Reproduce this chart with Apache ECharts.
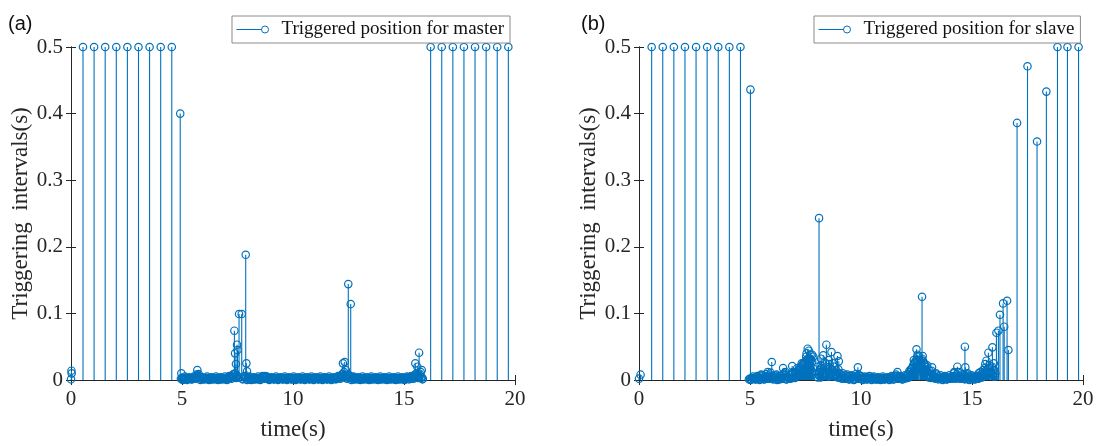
<!DOCTYPE html>
<html>
<head>
<meta charset="utf-8">
<script src="https://cdn.jsdelivr.net/npm/echarts@6/dist/echarts.min.js"></script>
<style>
html,body{margin:0;padding:0;background:#fff;}
#chart{width:1105px;height:446px;}
</style>
</head>
<body>
<div id="chart"></div>
<script>
// ---------------- data ----------------
const xTicks = [0, 5, 10, 15, 20];
const yTicks = [0, 0.1, 0.2, 0.3, 0.4, 0.5];
const panelLabels = ['(a)', '(b)'];
const seriesNames = ['Triggered position for master', 'Triggered position for slave'];
const xName = 'time(s)';
const yName = 'Triggering  intervals(s)';

// master: points clipped at the 0.5 limit
const masterTall = [[0.54,0.5],[1.04,0.5],[1.54,0.5],[2.04,0.5],[2.54,0.5],[3.04,0.5],[3.54,0.5],[4.04,0.5],[4.54,0.5],
  [16.2,0.5],[16.7,0.5],[17.2,0.5],[17.7,0.5],[18.2,0.5],[18.7,0.5],[19.2,0.5],[19.7,0.5]];
// master: isolated spikes
const masterSpikes = [[0,0.001],[0.02,0.014],[0.03,0.010],[4.92,0.400],[4.97,0.010],[5.69,0.015],[5.75,0.009],
  [7.36,0.074],[7.39,0.040],[7.43,0.024],[7.48,0.053],[7.50,0.045],[7.57,0.099],[7.69,0.099],[7.87,0.188],
  [7.90,0.025],[7.93,0.013],[12.25,0.025],[12.33,0.027],[12.38,0.015],[12.49,0.144],[12.60,0.114],
  [15.51,0.025],[15.60,0.020],[15.68,0.041],[15.75,0.012],[15.80,0.015]];
// master: dense band of short intervals
const masterBand = [
  [5.0,0.003],[5.1,0.002],[5.2,0.002],[5.3,0.003],[5.4,0.002],[5.5,0.003],[5.6,0.004],[5.7,0.006],[5.8,0.004],[5.9,0.003],
  [6.0,0.002],[6.1,0.003],[6.2,0.002],[6.3,0.002],[6.4,0.003],[6.5,0.002],[6.6,0.003],[6.7,0.002],[6.8,0.003],[6.9,0.002],
  [7.0,0.003],[7.1,0.004],[7.2,0.006],[7.3,0.008],[7.4,0.010],[7.5,0.006],
  [7.8,0.005],[7.9,0.004],[8.0,0.004],[8.1,0.003],[8.2,0.002],[8.3,0.003],[8.4,0.002],[8.5,0.003],[8.6,0.004],[8.7,0.005],
  [8.8,0.004],[8.9,0.003],[9.0,0.002],[9.1,0.003],[9.2,0.002],[9.3,0.003],[9.4,0.002],[9.5,0.002],[9.6,0.003],[9.7,0.002],
  [9.8,0.003],[9.9,0.002],[10.0,0.003],[10.1,0.002],[10.2,0.002],[10.3,0.003],[10.4,0.002],[10.5,0.003],[10.6,0.002],
  [10.7,0.003],[10.8,0.002],[10.9,0.002],[11.0,0.003],[11.1,0.002],[11.2,0.003],[11.3,0.002],[11.4,0.002],[11.5,0.003],
  [11.6,0.002],[11.7,0.003],[11.8,0.002],[11.9,0.003],[12.0,0.004],[12.1,0.005],[12.2,0.008],[12.3,0.012],
  [12.5,0.008],[12.6,0.005],[12.7,0.004],[12.8,0.003],[12.9,0.002],[13.0,0.003],[13.1,0.002],[13.2,0.003],[13.3,0.002],
  [13.4,0.002],[13.5,0.003],[13.6,0.002],[13.7,0.003],[13.8,0.002],[13.9,0.003],[14.0,0.002],[14.1,0.002],[14.2,0.003],
  [14.3,0.002],[14.4,0.003],[14.5,0.002],[14.6,0.003],[14.7,0.002],[14.8,0.003],[14.9,0.003],[15.0,0.002],[15.1,0.003],
  [15.2,0.004],[15.3,0.004],[15.4,0.005],[15.5,0.008],[15.6,0.010],[15.7,0.006],[15.8,0.004]];
const masterBand2 = [
  [4.95,0.002],[5.05,0.001],[5.15,0.003],[5.25,0.001],[5.35,0.002],[5.45,0.001],[5.55,0.003],[5.65,0.008],[5.75,0.003],
  [5.85,0.002],[5.95,0.001],[6.05,0.002],[6.15,0.001],[6.25,0.003],[6.35,0.001],[6.45,0.002],[6.55,0.001],[6.65,0.002],
  [6.75,0.001],[6.85,0.002],[6.95,0.001],[7.05,0.002],[7.15,0.003],[7.25,0.004],[7.35,0.005],[7.45,0.004],
  [7.75,0.002],[7.85,0.003],[7.95,0.002],[8.05,0.001],[8.15,0.002],[8.25,0.001],[8.35,0.002],[8.45,0.001],[8.55,0.002],
  [8.65,0.003],[8.75,0.006],[8.85,0.002],[8.95,0.001],[9.05,0.002],[9.15,0.001],[9.25,0.002],[9.35,0.001],[9.45,0.003],
  [9.55,0.001],[9.65,0.002],[9.75,0.001],[9.85,0.002],[9.95,0.001],[10.05,0.002],[10.15,0.001],[10.25,0.002],[10.35,0.001],
  [10.45,0.002],[10.55,0.001],[10.65,0.002],[10.75,0.001],[10.85,0.003],[10.95,0.001],[11.05,0.002],[11.15,0.001],
  [11.25,0.002],[11.35,0.001],[11.45,0.002],[11.55,0.001],[11.65,0.002],[11.75,0.001],[11.85,0.002],[11.95,0.002],
  [12.05,0.003],[12.15,0.004],[12.25,0.006],[12.35,0.007],
  [12.45,0.004],[12.55,0.003],[12.65,0.002],[12.75,0.001],[12.85,0.002],[12.95,0.001],[13.05,0.002],[13.15,0.001],
  [13.25,0.002],[13.35,0.001],[13.45,0.002],[13.55,0.001],[13.65,0.002],[13.75,0.001],[13.85,0.002],[13.95,0.001],
  [14.05,0.003],[14.15,0.001],[14.25,0.002],[14.35,0.001],[14.45,0.002],[14.55,0.001],[14.65,0.002],[14.75,0.001],
  [14.85,0.002],[14.95,0.001],[15.05,0.002],[15.15,0.002],[15.25,0.003],[15.35,0.002],[15.45,0.004],[15.55,0.006],
  [15.65,0.005],[15.75,0.003],[15.85,0.002]];
const masterBand3 = [
  [5.03,0.000],[5.13,0.005],[5.23,0.000],[5.33,0.004],[5.43,0.001],[5.53,0.005],[5.63,0.002],[5.73,0.007],[5.83,0.000],
  [5.93,0.004],[6.03,0.001],[6.13,0.005],[6.23,0.000],[6.33,0.004],[6.43,0.001],[6.53,0.005],[6.63,0.000],[6.73,0.004],
  [6.83,0.001],[6.93,0.005],[7.03,0.000],[7.13,0.006],[7.23,0.002],[7.33,0.009],[7.43,0.003],[7.53,0.004],
  [7.73,0.001],[7.83,0.006],[7.93,0.000],[8.03,0.005],[8.13,0.000],[8.23,0.004],[8.33,0.001],[8.43,0.005],[8.53,0.000],
  [8.63,0.006],[8.73,0.002],[8.83,0.005],[8.93,0.000],[9.03,0.004],[9.13,0.001],[9.23,0.005],[9.33,0.000],[9.43,0.004],
  [9.53,0.001],[9.63,0.005],[9.73,0.000],[9.83,0.004],[9.93,0.001],[10.03,0.005],[10.13,0.000],[10.23,0.004],[10.33,0.001],
  [10.43,0.005],[10.53,0.000],[10.63,0.004],[10.73,0.001],[10.83,0.005],[10.93,0.000],[11.03,0.004],[11.13,0.001],
  [11.23,0.005],[11.33,0.000],[11.43,0.004],[11.53,0.001],[11.63,0.005],[11.73,0.000],[11.83,0.004],[11.93,0.001],
  [12.03,0.006],[12.13,0.002],[12.23,0.009],[12.33,0.004],
  [12.43,0.002],[12.53,0.006],[12.63,0.000],[12.73,0.005],[12.83,0.001],[12.93,0.004],[13.03,0.000],[13.13,0.005],
  [13.23,0.001],[13.33,0.004],[13.43,0.000],[13.53,0.005],[13.63,0.001],[13.73,0.004],[13.83,0.000],[13.93,0.005],
  [14.03,0.001],[14.13,0.004],[14.23,0.000],[14.33,0.005],[14.43,0.001],[14.53,0.004],[14.63,0.000],[14.73,0.005],
  [14.83,0.001],[14.93,0.004],[15.03,0.000],[15.13,0.005],[15.23,0.001],[15.33,0.006],[15.43,0.002],[15.53,0.009],
  [15.63,0.003],[15.73,0.008],[15.83,0.001]];

// slave
const slaveTall = [[0.57,0.5],[1.07,0.5],[1.57,0.5],[2.07,0.5],[2.57,0.5],[3.07,0.5],[3.57,0.5],[4.07,0.5],[4.57,0.5],
  [18.85,0.5],[19.3,0.5],[19.8,0.5]];
const slaveSpikes = [[0,0.002],[0.07,0.008],[5.02,0.436],[8.11,0.243],[12.75,0.125],[14.68,0.050],
  [17.03,0.386],[17.5,0.471],[17.93,0.358],[18.35,0.433],
  [15.60,0.024],[15.65,0.029],[15.74,0.041],[15.92,0.049],[16.10,0.071],[16.19,0.074],[16.26,0.098],
  [16.40,0.115],[16.45,0.080],[16.58,0.119],[16.64,0.045]];
const slaveMid = [[5.5,0.008],[5.8,0.012],[5.98,0.027],[6.2,0.008],[6.49,0.018],[6.6,0.012],[6.9,0.021],[7.2,0.015],
  [7.4,0.025],[7.55,0.040],[7.6,0.047],[7.65,0.044],[7.8,0.038],[7.85,0.035],[8.05,0.020],[8.2,0.032],[8.3,0.037],
  [8.44,0.053],[8.55,0.030],[8.67,0.042],[8.75,0.025],[8.94,0.036],[9.0,0.028],[9.86,0.019],[11.64,0.012],
  [12.4,0.025],[12.5,0.046],[12.55,0.038],[12.6,0.035],[12.65,0.028],[12.85,0.025],[12.95,0.020],[13.1,0.014],
  [13.2,0.019],[14.2,0.012],[14.34,0.020],[14.7,0.019],[14.8,0.010],[15.3,0.010],[15.5,0.015]];
const slaveBand = [
  [5.0,0.002],[5.1,0.003],[5.2,0.002],[5.3,0.004],[5.4,0.003],[5.5,0.005],[5.6,0.003],[5.7,0.006],[5.8,0.005],[5.9,0.008],
  [6.0,0.006],[6.1,0.004],[6.2,0.005],[6.3,0.003],[6.4,0.006],[6.5,0.008],[6.6,0.005],[6.7,0.004],[6.8,0.007],[6.9,0.009],
  [7.0,0.008],[7.05,0.010],[7.1,0.012],[7.15,0.014],[7.2,0.015],[7.25,0.018],[7.3,0.020],[7.35,0.022],[7.4,0.023],
  [7.45,0.026],[7.5,0.028],[7.55,0.030],[7.6,0.031],[7.65,0.033],[7.7,0.032],[7.75,0.030],[7.8,0.028],
  [8.1,0.012],[8.15,0.015],[8.2,0.018],[8.3,0.014],[8.4,0.020],[8.5,0.016],[8.6,0.018],[8.7,0.015],[8.8,0.012],[8.9,0.014],
  [9.0,0.010],[9.1,0.008],[9.2,0.006],[9.3,0.007],[9.4,0.005],[9.5,0.006],[9.6,0.004],[9.7,0.005],[9.8,0.006],[9.9,0.008],
  [10.0,0.005],[10.1,0.004],[10.2,0.003],[10.3,0.004],[10.4,0.003],[10.5,0.004],[10.6,0.003],[10.7,0.002],[10.8,0.003],
  [10.9,0.002],[11.0,0.003],[11.1,0.002],[11.2,0.003],[11.3,0.004],[11.4,0.003],[11.5,0.005],[11.6,0.006],[11.7,0.004],
  [11.8,0.003],[11.9,0.004],[12.0,0.005],[12.1,0.008],[12.2,0.012],[12.25,0.016],[12.3,0.018],[12.35,0.022],[12.4,0.025],
  [12.45,0.028],[12.5,0.030],[12.55,0.027],
  [12.7,0.030],[12.75,0.032],[12.8,0.028],[12.85,0.024],[12.9,0.020],[12.95,0.015],[13.0,0.012],[13.1,0.008],[13.2,0.009],
  [13.3,0.006],[13.4,0.008],[13.5,0.005],[13.6,0.004],[13.7,0.003],[13.8,0.004],[13.9,0.003],[14.0,0.004],[14.1,0.005],
  [14.2,0.006],[14.3,0.008],[14.4,0.006],[14.5,0.005],[14.6,0.007],[14.7,0.006],[14.8,0.005],[14.9,0.004],[15.0,0.005],
  [15.1,0.004],[15.2,0.005],[15.3,0.006],[15.4,0.008],[15.5,0.010],[15.6,0.013],[15.7,0.016],[15.8,0.018],[15.9,0.020],
  [16.0,0.015],[16.05,0.010]];
const slaveBand2 = [
  [4.95,0.001],[5.05,0.001],[5.15,0.002],[5.25,0.001],[5.35,0.002],[5.45,0.001],[5.55,0.002],[5.65,0.001],[5.75,0.003],
  [5.85,0.002],[5.95,0.003],[6.05,0.002],[6.15,0.001],[6.25,0.002],[6.35,0.001],[6.45,0.003],[6.55,0.002],[6.65,0.001],
  [6.75,0.002],[6.85,0.003],[6.95,0.004],[7.02,0.003],[7.08,0.005],[7.12,0.006],[7.18,0.008],[7.22,0.006],[7.28,0.010],
  [7.32,0.008],[7.38,0.012],[7.42,0.010],[7.48,0.015],[7.52,0.012],[7.58,0.018],[7.62,0.014],[7.68,0.020],[7.72,0.016],
  [7.78,0.012],[7.82,0.008],
  [8.05,0.004],[8.12,0.006],[8.18,0.004],[8.25,0.008],[8.35,0.006],[8.45,0.009],[8.55,0.005],[8.65,0.008],[8.75,0.006],
  [8.85,0.005],[8.95,0.004],[9.05,0.003],[9.15,0.002],[9.25,0.003],[9.35,0.002],[9.45,0.001],[9.55,0.002],[9.65,0.001],
  [9.75,0.002],[9.85,0.003],[9.95,0.002],[10.05,0.001],[10.15,0.002],[10.25,0.001],[10.35,0.002],[10.45,0.001],
  [10.55,0.002],[10.65,0.001],[10.75,0.001],[10.85,0.002],[10.95,0.001],[11.05,0.001],[11.15,0.002],[11.25,0.001],
  [11.35,0.002],[11.45,0.001],[11.55,0.002],[11.65,0.003],[11.75,0.002],[11.85,0.001],[11.95,0.002],[12.05,0.003],
  [12.15,0.004],[12.22,0.006],[12.28,0.008],[12.32,0.010],[12.38,0.012],[12.42,0.014],[12.48,0.016],[12.52,0.012],
  [12.68,0.016],[12.72,0.018],[12.78,0.014],[12.82,0.012],[12.88,0.010],[12.98,0.006],[13.05,0.004],[13.15,0.003],
  [13.25,0.004],[13.35,0.002],[13.45,0.003],[13.55,0.002],[13.65,0.001],[13.75,0.002],[13.85,0.001],[13.95,0.002],
  [14.05,0.002],[14.15,0.003],[14.25,0.002],[14.35,0.003],[14.45,0.002],[14.55,0.003],[14.65,0.002],[14.75,0.002],
  [14.85,0.001],[14.95,0.002],[15.05,0.002],[15.15,0.001],[15.25,0.002],[15.35,0.003],[15.45,0.004],[15.55,0.006],
  [15.65,0.008],[15.75,0.009],[15.85,0.010],[15.95,0.008],[16.02,0.005]];
const slaveBand3 = [
  [5.03,0.000],[5.13,0.005],[5.23,0.001],[5.33,0.006],[5.43,0.000],[5.53,0.007],[5.63,0.001],[5.73,0.009],[5.83,0.002],
  [5.93,0.011],[6.03,0.001],[6.13,0.007],[6.23,0.000],[6.33,0.006],[6.43,0.002],[6.53,0.010],[6.63,0.001],[6.73,0.008],
  [6.83,0.002],[6.93,0.012],[7.03,0.004],[7.13,0.018],[7.23,0.010],[7.33,0.025],[7.43,0.016],[7.53,0.035],[7.63,0.022],
  [7.73,0.038],[7.83,0.018],
  [8.08,0.008],[8.18,0.022],[8.28,0.010],[8.38,0.026],[8.48,0.012],[8.58,0.024],[8.68,0.010],[8.78,0.020],[8.88,0.008],
  [8.98,0.016],[9.08,0.004],[9.18,0.010],[9.28,0.002],[9.38,0.008],[9.48,0.001],[9.58,0.007],[9.68,0.000],[9.78,0.009],
  [9.88,0.002],[9.98,0.006],[10.08,0.000],[10.18,0.005],[10.28,0.001],[10.38,0.006],[10.48,0.000],[10.58,0.005],
  [10.68,0.001],[10.78,0.004],[10.88,0.000],[10.98,0.005],[11.08,0.001],[11.18,0.004],[11.28,0.000],[11.38,0.006],
  [11.48,0.001],[11.58,0.008],[11.68,0.002],[11.78,0.006],[11.88,0.001],[11.98,0.007],[12.08,0.003],[12.18,0.014],
  [12.28,0.010],[12.38,0.030],[12.48,0.020],[12.55,0.036],
  [12.68,0.022],[12.78,0.036],[12.88,0.016],[12.98,0.022],[13.08,0.006],[13.18,0.014],[13.28,0.003],[13.38,0.010],
  [13.48,0.001],[13.58,0.007],[13.68,0.000],[13.78,0.006],[13.88,0.001],[13.98,0.007],[14.08,0.002],[14.18,0.010],
  [14.28,0.003],[14.38,0.012],[14.48,0.002],[14.58,0.009],[14.68,0.001],[14.78,0.008],[14.88,0.000],[14.98,0.007],
  [15.08,0.001],[15.18,0.006],[15.28,0.002],[15.38,0.012],[15.48,0.005],[15.58,0.018],[15.68,0.008],[15.78,0.022],
  [15.88,0.012],[15.98,0.025],[16.03,0.006]];

// ---------------- chart ----------------
const BLUE = '#0072BD';
const AX = '#262626';
const SERIF = 'Liberation Serif';

function stemItem(params, api) {
  const t = api.value(0), v = api.value(1);
  const p0 = api.coord([t, 0]);
  const p1 = api.coord([t, v]);
  return {
    type: 'group',
    children: [
      {type: 'line', shape: {x1: p0[0], y1: p0[1], x2: p1[0], y2: p1[1]}, style: {stroke: BLUE, lineWidth: 1.1}},
      {type: 'circle', shape: {cx: p1[0], cy: p1[1], r: 3.7}, style: {fill: 'rgba(0,0,0,0)', stroke: BLUE, lineWidth: 1.2}}
    ]
  };
}

const grids = [
  {left: 71, right: 590, top: 47, bottom: 63},
  {left: 639, right: 22, top: 47, bottom: 63}
];

const xAxes = [], yAxes = [], series = [], legends = [], titles = [];
const datasets = [
  [masterTall, masterSpikes, masterBand, masterBand2, masterBand3],
  [slaveTall, slaveSpikes, slaveMid, slaveBand, slaveBand2, slaveBand3]
];
const legendLeft = [232, 814];

for (let g = 0; g < 2; g++) {
  const common = {
    min: 0, max: 20, interval: 5, gridIndex: g, type: 'value',
    axisLine: {show: true, lineStyle: {color: AX, width: 1}},
    axisTick: {show: true, inside: true, length: 5, lineStyle: {color: AX}},
    splitLine: {show: false}
  };
  xAxes.push(Object.assign({}, common, {
    position: 'bottom',
    axisLabel: {color: AX, fontFamily: SERIF, fontSize: 21, margin: 9,
      formatter: v => xTicks.includes(v) ? String(v) : ''},
    name: xName, nameLocation: 'middle', nameGap: 38,
    nameTextStyle: {color: AX, fontFamily: SERIF, fontSize: 23}
  }));
  xAxes.push(Object.assign({}, common, {position: 'top', axisLabel: {show: false}}));
  const ycommon = {
    min: 0, max: 0.5, interval: 0.1, gridIndex: g, type: 'value',
    axisLine: {show: true, lineStyle: {color: AX, width: 1}},
    axisTick: {show: true, inside: true, length: 5, lineStyle: {color: AX}},
    splitLine: {show: false}
  };
  yAxes.push(Object.assign({}, ycommon, {
    position: 'left',
    axisLabel: {color: AX, fontFamily: SERIF, fontSize: 21, margin: 8,
      formatter: v => { const m = yTicks.find(t => Math.abs(t - v) < 1e-9); return m === undefined ? '' : String(m); }},
    name: yName, nameLocation: 'middle', nameGap: 38,
    nameTextStyle: {color: AX, fontFamily: SERIF, fontSize: 23}
  }));
  yAxes.push(Object.assign({}, ycommon, {position: 'right', axisLabel: {show: false}}));

  datasets[g].forEach((d, i) => {
    series.push({
      type: 'custom', name: seriesNames[g], xAxisIndex: g * 2, yAxisIndex: g * 2,
      data: d, encode: {x: 0, y: 1}, renderItem: stemItem, clip: false,
      itemStyle: {color: BLUE}, silent: true, animation: false
    });
  });

  legends.push({
    show: true, left: legendLeft[g], top: 16,
    data: [{name: seriesNames[g], icon: 'path://M0,4 L25,4 M32,4 A3.5,3.5 0 1 1 25,4 A3.5,3.5 0 1 1 32,4'}],
    itemWidth: 32, itemHeight: 8,
    itemStyle: {color: 'rgba(0,0,0,0)', borderColor: BLUE, borderWidth: 1},
    textStyle: {color: '#111', fontFamily: SERIF, fontSize: 19, padding: [0, 0, 0, 8]},
    borderColor: '#8c8c8c', borderWidth: 1, padding: [4, 6, 4, 4],
    backgroundColor: '#fff', selectedMode: false
  });

  titles.push({
    text: panelLabels[g], left: g === 0 ? 3 : 576, top: 9,
    textStyle: {fontFamily: 'Liberation Sans', fontSize: 20, fontWeight: 'normal', color: '#111'}
  });
}

const chart = echarts.init(document.getElementById('chart'), null, {renderer: 'canvas'});
chart.setOption({
  animation: false,
  backgroundColor: '#fff',
  title: titles,
  legend: legends,
  grid: grids,
  xAxis: xAxes,
  yAxis: yAxes,
  series: series
});
</script>
</body>
</html>
